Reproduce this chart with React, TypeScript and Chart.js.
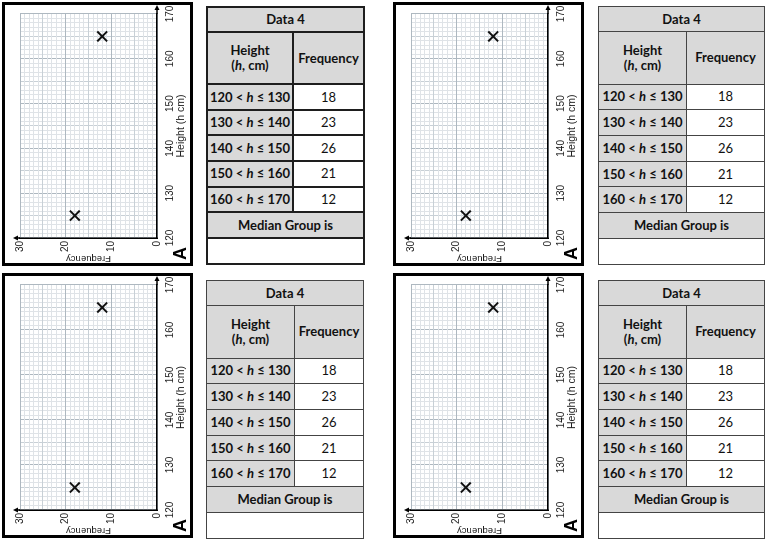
import React, { useEffect, useRef } from 'react';
import { Chart, registerables } from 'chart.js';

Chart.register(...registerables);

// ---- data ----
const heightMin = 120;
const heightMax = 170;
const frequencyMin = 0;
const frequencyMax = 30;
const plottedHeights = [125, 165];
const plottedFrequencies = [18, 12];
const classLower = [120, 130, 140, 150, 160];
const classUpper = [130, 140, 150, 160, 170];
const frequencies = [18, 23, 26, 21, 12];
const tableTitle = 'Data 4';
const heightAxisTitle = 'Height (h cm)';
const frequencyAxisTitle = 'Frequency';
const medianLabel = 'Median Group is';
const panelLetter = 'A';

// ---- layout ----
const chartBoxes = [
  { left: 2, top: 2, width: 191, height: 264 },
  { left: 393, top: 2, width: 191, height: 264 },
  { left: 2, top: 273, width: 191, height: 265 },
  { left: 393, top: 273, width: 191, height: 265 },
];
const tableBoxes = [
  { left: 206, top: 6, width: 157, height: 257, split: 86, line: '2px solid #1e1e1e' },
  { left: 598, top: 6, width: 166, height: 258, split: 88, line: '1.5px solid #444' },
  { left: 206, top: 280, width: 157, height: 258, split: 88, line: '1.5px solid #444' },
  { left: 598, top: 280, width: 166, height: 258, split: 88, line: '1.5px solid #444' },
];

const gridColor = (v: number) =>
  v % 10 === 0 ? '#aeb8c0' : v % 5 === 0 ? '#c8d0d6' : '#dfe3e7';

const arrowPlugin = {
  id: 'axisArrows',
  afterDraw(chart: any) {
    const { ctx, scales } = chart;
    const x = scales.x;
    const y = scales.y;
    const baseY = y.getPixelForValue(frequencyMin);
    const endX = x.getPixelForValue(heightMax);
    const baseX = x.getPixelForValue(heightMin);
    const endY = y.getPixelForValue(frequencyMax);
    ctx.save();
    ctx.strokeStyle = '#000';
    ctx.fillStyle = '#000';
    ctx.lineWidth = 1.5;
    ctx.beginPath();
    ctx.moveTo(endX, baseY);
    ctx.lineTo(endX + 7, baseY);
    ctx.moveTo(baseX, endY);
    ctx.lineTo(baseX, endY - 5);
    ctx.stroke();
    ctx.beginPath();
    ctx.moveTo(endX + 9, baseY);
    ctx.lineTo(endX + 4, baseY - 2.5);
    ctx.lineTo(endX + 4, baseY + 2.5);
    ctx.closePath();
    ctx.fill();
    ctx.beginPath();
    ctx.moveTo(baseX, endY - 7);
    ctx.lineTo(baseX - 2.5, endY - 2);
    ctx.lineTo(baseX + 2.5, endY - 2);
    ctx.closePath();
    ctx.fill();
    ctx.restore();
  },
};

function ChartPanel({ left, top, width, height }: { left: number; top: number; width: number; height: number }) {
  const ref = useRef<HTMLCanvasElement>(null);
  useEffect(() => {
    if (!ref.current) return;
    const chart = new Chart(ref.current, {
      type: 'scatter',
      data: {
        datasets: [
          {
            data: plottedHeights.map((h, i) => ({ x: h, y: plottedFrequencies[i] })),
            pointStyle: 'crossRot',
            pointRadius: 7,
            pointBorderWidth: 2,
            borderColor: '#111',
            backgroundColor: '#111',
            showLine: false,
          },
        ],
      },
      options: {
        animation: false,
        responsive: false,
        devicePixelRatio: 1,
        layout: { autoPadding: false, padding: { left: 0, top: 15, right: 9, bottom: 3 } },
        plugins: { legend: { display: false }, tooltip: { enabled: false } },
        scales: {
          x: {
            type: 'linear',
            position: 'bottom',
            min: heightMin,
            max: heightMax,
            afterFit: (s: any) => {
              s.height = 30;
              s.paddingLeft = 0;
              s.paddingRight = 0;
            },
            ticks: {
              stepSize: 1,
              autoSkip: false,
              maxRotation: 0,
              minRotation: 0,
              padding: 7,
              color: '#222',
              font: { family: '"Liberation Sans", sans-serif', size: 10 },
              callback: (v: any) => (Number(v) % 10 === 0 ? String(v) : ''),
            },
            grid: {
              drawTicks: false,
              color: (c: any) => gridColor(c.tick ? c.tick.value : 0),
              lineWidth: 1,
            },
            border: { display: true, color: '#000', width: 1.5 },
            title: {
              display: true,
              text: heightAxisTitle,
              color: '#222',
              font: { family: '"Liberation Sans", sans-serif', size: 10.5, lineHeight: 1 },
              padding: { top: 0, bottom: 1 },
            },
          },
          y: {
            type: 'linear',
            min: frequencyMin,
            max: frequencyMax,
            afterFit: (s: any) => {
              s.width = 25;
              s.paddingTop = 0;
              s.paddingBottom = 0;
            },
            ticks: {
              stepSize: 1,
              autoSkip: false,
              padding: 3,
              color: '#222',
              font: { family: '"Liberation Sans", sans-serif', size: 10 },
              callback: (v: any) => (Number(v) % 10 === 0 ? String(v) : ''),
            },
            grid: {
              drawTicks: false,
              color: (c: any) => gridColor(c.tick ? c.tick.value : 0),
              lineWidth: 1,
            },
            border: { display: true, color: '#000', width: 1.5 },
            title: {
              display: true,
              text: frequencyAxisTitle,
              color: '#222',
              font: { family: '"Liberation Sans", sans-serif', size: 9.5, lineHeight: 1 },
              padding: { top: 0, bottom: 0 },
            },
          },
        },
      },
      plugins: [arrowPlugin],
    } as any);
    return () => chart.destroy();
  }, []);
  return (
    <div style={{ position: 'absolute', left, top, width, height, overflow: 'hidden' }}>
      <div
        style={{
          position: 'absolute',
          left: 0,
          top: 0,
          width: height,
          height: width,
          boxSizing: 'border-box',
          border: '3px solid #000',
          background: '#fff',
          transformOrigin: '0 0',
          transform: `translateY(${height}px) rotate(-90deg)`,
        }}
      >
        <canvas ref={ref} width={height - 6} height={width - 6} style={{ display: 'block' }} />
        <span
          style={{
            position: 'absolute',
            left: 3,
            bottom: 1,
            font: 'bold 18px "Liberation Sans", sans-serif',
            lineHeight: 1,
            color: '#000',
          }}
        >
          {panelLetter}
        </span>
      </div>
    </div>
  );
}

function DataTable({ left, top, width, height, split, line }: { left: number; top: number; width: number; height: number; split: number; line: string }) {
  const rowUnits = [25, 52, 25.5, 25.5, 25.5, 25.5, 25.5, 25.5, 26];
  const total = rowUnits.reduce((a, b) => a + b, 0);
  const rh = rowUnits.map((r) => (r * height) / total);
  const grey = '#d9d9d9';
  const base: React.CSSProperties = {
    border: line,
    padding: 0,
    textAlign: 'center',
    verticalAlign: 'middle',
    color: '#111',
    lineHeight: 1.15,
  };
  return (
    <table
      style={{
        position: 'absolute',
        left,
        top,
        width,
        height,
        borderCollapse: 'collapse',
        tableLayout: 'fixed',
        fontFamily: 'Lato, "Liberation Sans", sans-serif',
        fontSize: 13,
        background: '#fff',
      }}
    >
      <colgroup>
        <col style={{ width: split }} />
        <col style={{ width: width - split }} />
      </colgroup>
      <tbody>
        <tr style={{ height: rh[0] }}>
          <td colSpan={2} style={{ ...base, background: grey, fontWeight: 700 }}>
            {tableTitle}
          </td>
        </tr>
        <tr style={{ height: rh[1] }}>
          <td style={{ ...base, background: grey, fontWeight: 700 }}>
            Height
            <br />(<i>h</i>, cm)
          </td>
          <td style={{ ...base, background: grey, fontWeight: 700 }}>Frequency</td>
        </tr>
        {frequencies.map((f, i) => (
          <tr key={i} style={{ height: rh[2 + i] }}>
            <td style={{ ...base, background: grey, fontWeight: 700, whiteSpace: 'nowrap' }}>
              {classLower[i]} &lt; <i>h</i> ≤ {classUpper[i]}
            </td>
            <td style={{ ...base, background: '#fff' }}>{f}</td>
          </tr>
        ))}
        <tr style={{ height: rh[7] }}>
          <td colSpan={2} style={{ ...base, background: grey, fontWeight: 700 }}>
            {medianLabel}
          </td>
        </tr>
        <tr style={{ height: rh[8] }}>
          <td colSpan={2} style={{ ...base, background: '#fff' }}></td>
        </tr>
      </tbody>
    </table>
  );
}

export default function App() {
  return (
    <div style={{ position: 'absolute', left: 0, top: 0, width: 780, height: 540, background: '#fff', overflow: 'hidden' }}>
      {chartBoxes.map((b, i) => (
        <ChartPanel key={'c' + i} {...b} />
      ))}
      {tableBoxes.map((b, i) => (
        <DataTable key={'t' + i} {...b} />
      ))}
    </div>
  );
}
